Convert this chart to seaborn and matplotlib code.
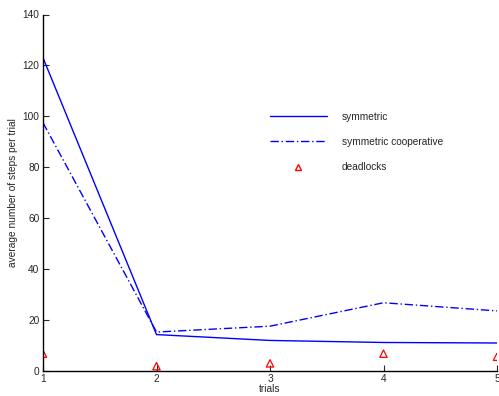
import pandas as pd
import matplotlib
matplotlib.use("Agg")
import matplotlib.pyplot as plt
import seaborn as sns
from matplotlib.lines import Line2D

# valores
trials = [1, 2, 3, 4, 5]
symmetric = [123, 14.3, 12.0, 11.2, 11.0]
symmetric_coop = [97.5, 15.3, 17.6, 26.8, 23.6]
deadlocks = [6.8, 1.9, 3.0, 6.8, 5.6]

df = pd.DataFrame({
    "trials": trials * 2,
    "steps": symmetric + symmetric_coop,
    "serie": ["symmetric"] * 5 + ["symmetric cooperative"] * 5,
})
df_dead = pd.DataFrame({"trials": trials, "deadlocks": deadlocks})

sns.set_style("white")
plt.rcParams["font.family"] = ["Liberation Sans", "DejaVu Sans"]
fs = 7.3

fig = plt.figure(figsize=(4.99, 3.96), dpi=100)
ax = fig.add_axes([43 / 499, 25 / 396, 454 / 499, 356.5 / 396])

sns.lineplot(data=df, x="trials", y="steps", hue="serie", style="serie",
             palette={"symmetric": "#0000ff", "symmetric cooperative": "#0000ff"},
             dashes={"symmetric": "", "symmetric cooperative": (6, 2, 1, 2)},
             linewidth=1, ax=ax, legend=False)
sns.scatterplot(data=df_dead, x="trials", y="deadlocks", marker="^", s=28,
                facecolors="none", edgecolor="red", linewidth=0.9, ax=ax)

handles = [
    Line2D([], [], color="#0000ff", lw=1, label="symmetric"),
    Line2D([], [], color="#0000ff", lw=1, dashes=(6, 2, 1, 2), label="symmetric cooperative"),
    Line2D([], [], color="red", lw=0, marker="^", markerfacecolor="none",
           markeredgecolor="red", markersize=5, label="deadlocks"),
]
ax.legend(handles=handles, loc="upper left", bbox_to_anchor=(0.5, 0.727),
          frameon=False, borderpad=0, borderaxespad=0, handlelength=5.6,
          handletextpad=1.5, labelspacing=1.5, fontsize=fs)

ax.set_xlim(1, 5)
ax.set_ylim(0, 140)
ax.set_xticks([1, 2, 3, 4, 5])
ax.set_yticks(range(0, 141, 20))
ax.set_xlabel("trials", fontsize=fs, labelpad=0)
ax.set_ylabel("average number of steps per trial", fontsize=fs, labelpad=3)
ax.tick_params(direction="in", length=4, width=0.8, labelsize=fs, pad=2.5,
               left=True, bottom=True)
sns.despine(ax=ax)
for s in ["left", "bottom"]:
    ax.spines[s].set_color("black")
    ax.spines[s].set_linewidth(1)
ax.patch.set_alpha(0)

fig.savefig("out.png", dpi=100)
